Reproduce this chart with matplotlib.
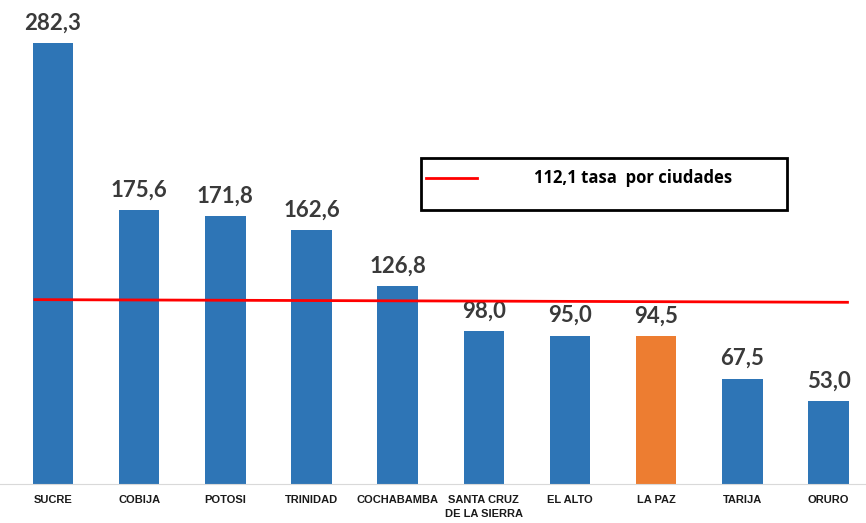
import matplotlib.pyplot as plt

ciudades = ["SUCRE", "COBIJA", "POTOSI", "TRINIDAD", "COCHABAMBA",
            "SANTA CRUZ\nDE LA SIERRA", "EL ALTO", "LA PAZ", "TARIJA", "ORURO"]
tasas = [282.3, 175.6, 171.8, 162.6, 126.8, 98.0, 95.0, 94.5, 67.5, 53.0]
etiquetas = ["282,3", "175,6", "171,8", "162,6", "126,8", "98,0", "95,0", "94,5", "67,5", "53,0"]
colores = ["#2E75B6"] * 10
colores[7] = "#ED7D31"

# linea roja dibujada a mano en el original (ligeramente inclinada)
linea_x = [-0.21, 9.22]
linea_y = [118.0, 116.3]
texto_leyenda = "112,1 tasa  por ciudades"

fig = plt.figure(figsize=(8.66, 5.23), dpi=100)
ax = fig.add_axes([0.0, 0.0746, 1.0, 0.9254])

x = range(len(ciudades))
ax.bar(x, tasas, width=0.47, color=colores, zorder=2)
for i, v in enumerate(tasas):
    ax.text(i, v + 6, etiquetas[i], ha="center", va="bottom", fontsize=16,
            fontweight="bold", family="Lato", color="#3a3a3a")

ax.plot(linea_x, linea_y, color="#FF0000", lw=2, zorder=3)

ax.set_xlim(-0.615, 9.435)
ax.set_ylim(0, 309.8)
ax.set_xticks(list(x))
ax.set_xticklabels(ciudades, fontsize=8, fontweight="bold",
                   family=["Liberation Sans Narrow", "Liberation Sans"],
                   color="#1a1a1a", linespacing=1.45)
ax.tick_params(axis="x", length=0, pad=8)
ax.set_yticks([])
for s in ["top", "right", "left"]:
    ax.spines[s].set_visible(False)
ax.spines["bottom"].set_color("#D9D9D9")

# caja de leyenda
caja = plt.Rectangle((421 / 866, 1 - 210 / 523), 366 / 866, 52 / 523,
                     transform=fig.transFigure, fill=False, edgecolor="black", lw=2)
fig.patches.append(caja)
fig.lines.append(plt.Line2D([426 / 866, 477 / 866], [1 - 178 / 523, 1 - 178 / 523],
                            transform=fig.transFigure, color="#FF0000", lw=2))
fig.text(633 / 866, 1 - 178 / 523, texto_leyenda, ha="center", va="center",
         fontsize=12, fontweight="bold", family="Open Sans", color="black")

fig.savefig("out.png", dpi=100)
